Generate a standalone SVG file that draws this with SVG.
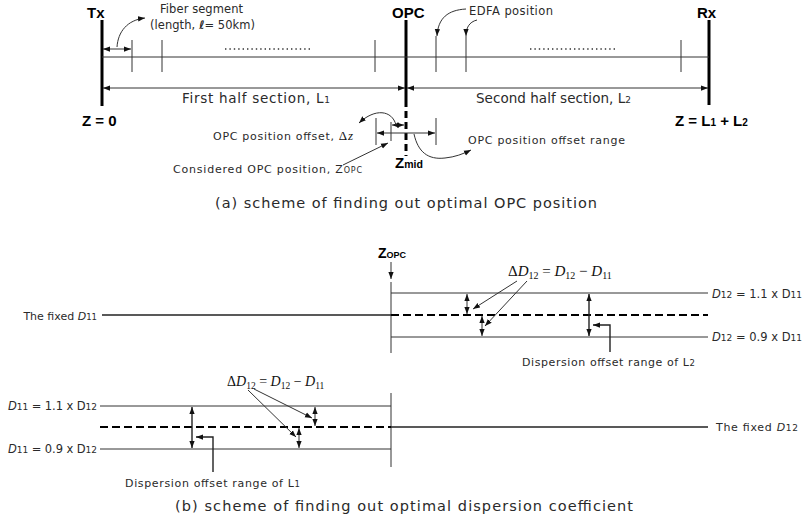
<svg xmlns="http://www.w3.org/2000/svg" width="804" height="527" viewBox="0 0 804 527">
  <style>
    .t { font-family: "DejaVu Sans", "Liberation Sans", Arial, sans-serif; fill: #2a2a2a; }
    .b { font-family: "Liberation Sans", Arial, sans-serif; font-weight: bold; fill: #000; }
    .m { font-family: "Liberation Serif", "Times New Roman", serif; fill: #111; }
    .thin { stroke: #333; stroke-width: 1; fill: none; }
    .med { stroke: #222; stroke-width: 1.4; fill: none; }
    .thick { stroke: #000; stroke-width: 3; fill: none; }
    .dash { stroke: #000; stroke-width: 2; stroke-dasharray: 8 4; fill: none; }
    .dots { stroke: #333; stroke-width: 1.4; stroke-dasharray: 1.4 3; fill: none; }
    .arr { marker-end: url(#ah); }
    .dbl { marker-start: url(#ah); marker-end: url(#ah); }
  </style>
  <defs>
    <marker id="ah" viewBox="0 0 8 6" refX="8" refY="3" markerWidth="7" markerHeight="6" markerUnits="userSpaceOnUse" orient="auto-start-reverse">
      <path d="M0,0 L8,3 L0,6 z" fill="#111"/>
    </marker>
  </defs>

  <rect width="804" height="527" fill="#fff"/>

  <!-- (a) link from Tx to Rx with the OPC in the middle -->
  <g id="terminals">
    <line class="thick" x1="102" y1="20" x2="102" y2="106"/>
    <line class="thick" x1="406" y1="20" x2="406" y2="100"/>
    <line class="thick" x1="406" y1="100" x2="406" y2="156" stroke-dasharray="7 4"/>
    <line class="thick" x1="709" y1="20" x2="709" y2="105"/>
    <text class="b" x="87" y="18" font-size="15">Tx</text>
    <text class="b" x="392" y="18" font-size="15">OPC</text>
    <text class="b" x="697" y="18" font-size="15">Rx</text>
    <text class="b" x="82" y="126" font-size="15">Z = 0</text>
    <text class="b" x="675" y="126" font-size="15">Z = L<tspan font-size="10">1</tspan> + L<tspan font-size="10">2</tspan></text>
  </g>

  <g id="fiber-link">
    <line class="thin" x1="102" y1="57" x2="709" y2="57"/>
    <line class="thin" x1="132" y1="40" x2="132" y2="72"/>
    <line class="thin" x1="162" y1="40" x2="162" y2="72"/>
    <line class="thin" x1="375" y1="40" x2="375" y2="72"/>
    <line class="thin" x1="436" y1="36" x2="436" y2="72"/>
    <line class="thin" x1="466" y1="36" x2="466" y2="72"/>
    <line class="thin" x1="681" y1="40" x2="681" y2="72"/>
    <line class="dots" x1="225" y1="49" x2="313" y2="49"/>
    <line class="dots" x1="530" y1="49" x2="617" y2="49"/>
  </g>

  <g id="fiber-segment-label">
    <text class="t" x="160" y="13" font-size="11.5" textLength="83">Fiber segment</text>
    <text class="t" x="150" y="29" font-size="11.5" textLength="105">(length, <tspan font-style="italic" font-weight="bold">ℓ</tspan>= 50km)</text>
  </g>

  <g id="edfa-label">
    <text class="t" x="469" y="15" font-size="11.5" textLength="84">EDFA position</text>
  </g>

  <g id="section-labels">
    <text class="t" x="182" y="103" font-size="13.5" textLength="148">First half section, L<tspan font-size="9">1</tspan></text>
    <text class="t" x="476" y="103" font-size="13.5" textLength="155">Second half section, L<tspan font-size="9">2</tspan></text>
  </g>

  <g id="opc-offset">
    <line class="thin" x1="376" y1="118" x2="376" y2="145"/>
    <line class="thin" x1="436" y1="118" x2="436" y2="145"/>
    <line class="thin" x1="391" y1="122" x2="391" y2="141"/>
    <text class="t" x="213" y="140" font-size="11" textLength="140">OPC position offset, <tspan class="m" font-size="13">Δ</tspan><tspan class="m" font-size="13" font-style="italic">z</tspan></text>
    <text class="t" x="173" y="173" font-size="11" textLength="189">Considered OPC position, Z<tspan font-size="8">OPC</tspan></text>
    <text class="t" x="468" y="144" font-size="11" textLength="157">OPC position offset range</text>
    <text class="b" x="395" y="168" font-size="15">Z<tspan font-size="10.5">mid</tspan></text>
  </g>

  <g id="caption-a">
    <text class="t" x="215" y="208" font-size="14.5" textLength="382">(a) scheme of finding out optimal OPC position</text>
  </g>

  <!-- (b) dispersion coefficient schemes -->
  <g id="upper-scheme">
    <text class="b" x="378" y="258" font-size="14">Z<tspan font-size="9">OPC</tspan></text>
    <line class="thin" x1="391" y1="282" x2="391" y2="353"/>
    <line class="thin" x1="391" y1="293" x2="708" y2="293"/>
    <line class="dash" x1="391" y1="315" x2="708" y2="315"/>
    <line class="thin" x1="391" y1="337" x2="708" y2="337"/>
    <line class="med" x1="102" y1="315" x2="391" y2="315"/>
    <text class="t" x="97" y="320" font-size="11" text-anchor="end">The fixed <tspan font-style="italic">D</tspan><tspan font-size="8.5">11</tspan></text>
    <text class="t" x="712" y="298" font-size="11.5" textLength="90"><tspan font-style="italic">D</tspan><tspan font-size="9">12</tspan> = 1.1 x D<tspan font-size="9">11</tspan></text>
    <text class="t" x="712" y="341" font-size="11.5" textLength="90"><tspan font-style="italic">D</tspan><tspan font-size="9">12</tspan> = 0.9 x D<tspan font-size="9">11</tspan></text>
    <text class="m" x="508" y="276" font-size="15">Δ<tspan font-style="italic">D</tspan><tspan font-size="10" dy="3">12</tspan><tspan dy="-3"> = </tspan><tspan font-style="italic">D</tspan><tspan font-size="10" dy="3">12</tspan><tspan dy="-3"> − </tspan><tspan font-style="italic">D</tspan><tspan font-size="10" dy="3">11</tspan></text>
    <text class="t" x="522" y="366" font-size="11" textLength="173">Dispersion offset range of L<tspan font-size="8.5">2</tspan></text>
  </g>

  <g id="lower-scheme">
    <line class="thin" x1="391" y1="393" x2="391" y2="467"/>
    <line class="thin" x1="100" y1="406" x2="391" y2="406"/>
    <line class="dash" x1="100" y1="427" x2="391" y2="427"/>
    <line class="thin" x1="100" y1="449" x2="391" y2="449"/>
    <line class="med" x1="391" y1="427" x2="708" y2="427"/>
    <text class="t" x="716" y="431" font-size="11" textLength="82">The fixed  <tspan font-style="italic">D</tspan><tspan font-size="9">12</tspan></text>
    <text class="t" x="8" y="410" font-size="11.5" textLength="89"><tspan font-style="italic">D</tspan><tspan font-size="9">11</tspan> = 1.1 x D<tspan font-size="9">12</tspan></text>
    <text class="t" x="8" y="453" font-size="11.5" textLength="89"><tspan font-style="italic">D</tspan><tspan font-size="9">11</tspan> = 0.9 x D<tspan font-size="9">12</tspan></text>
    <text class="m" x="227" y="386" font-size="14">Δ<tspan font-style="italic">D</tspan><tspan font-size="9.5" dy="3">12</tspan><tspan dy="-3"> = </tspan><tspan font-style="italic">D</tspan><tspan font-size="9.5" dy="3">12</tspan><tspan dy="-3"> − </tspan><tspan font-style="italic">D</tspan><tspan font-size="9.5" dy="3">11</tspan></text>
    <text class="t" x="125" y="487" font-size="11" textLength="175">Dispersion offset range of L<tspan font-size="8.5">1</tspan></text>
  </g>

  <g id="caption-b">
    <text class="t" x="175" y="511" font-size="14.5" textLength="458">(b) scheme of finding out optimal dispersion coefficient</text>
  </g>

  <!-- connectors: dimension arrows, pointers and leaders -->
  <g id="connectors">
    <line class="thin dbl" x1="103" y1="49" x2="131" y2="49"/>
    <path class="thin arr" d="M117,47 C118,32 127,20 145,18"/>
    <path class="thin arr" d="M466,9 C448,10 438,18 437,36"/>
    <path class="thin arr" d="M477,20 C469,22 466,28 466,36"/>
    <line class="thin dbl" x1="103" y1="88" x2="405" y2="88"/>
    <line class="thin dbl" x1="407" y1="88" x2="708" y2="88"/>

    <line class="thin dbl" x1="377" y1="133" x2="435" y2="133"/>
    <line class="thin dbl" x1="392" y1="125" x2="404" y2="125"/>
    <path class="thin arr" d="M396,125 C392,110 375,108 359,123"/>
    <line class="thin arr" x1="343" y1="165" x2="388" y2="143"/>
    <path class="thin arr" d="M414,134 C418,152 428,160 445,158 C455,157 463,154 471,150"/>

    <line class="thin arr" x1="391" y1="262" x2="391" y2="279"/>
    <line class="thin dbl" x1="467" y1="294" x2="467" y2="314"/>
    <line class="thin dbl" x1="482" y1="316" x2="482" y2="336"/>
    <line class="med dbl" x1="589" y1="294" x2="589" y2="336"/>
    <line class="thin arr" x1="517" y1="281" x2="473" y2="309"/>
    <line class="thin arr" x1="527" y1="281" x2="485" y2="326"/>
    <path class="med arr" d="M610,352 V325 H593"/>

    <line class="med dbl" x1="192" y1="407" x2="192" y2="448"/>
    <line class="thin dbl" x1="315" y1="407" x2="315" y2="426"/>
    <line class="thin dbl" x1="299" y1="428" x2="299" y2="448"/>
    <line class="thin arr" x1="248" y1="390" x2="296" y2="437"/>
    <line class="thin arr" x1="254" y1="389" x2="312" y2="418"/>
    <path class="med arr" d="M213,472 V437 H196"/>
  </g>
</svg>
